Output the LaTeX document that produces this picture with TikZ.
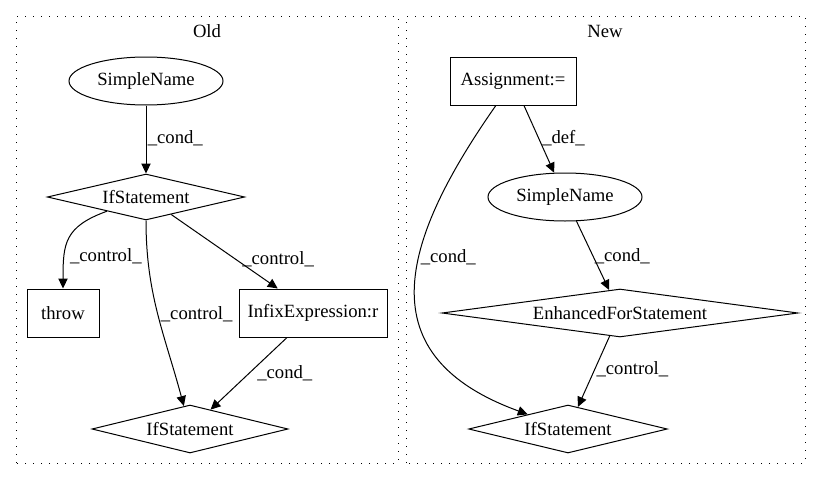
\documentclass[tikz,border=0pt]{standalone}
\usepackage{fontspec}
\setmainfont{Liberation Serif}
\usetikzlibrary{shapes.geometric, arrows.meta}
\begin{document}
\begin{tikzpicture}[x=0.75pt, y=0.75pt, line width=0.75pt,
    every node/.style={font=\fontsize{14}{16}\selectfont},
    box/.style={draw, rectangle, inner sep=0pt, minimum height=36pt},
    oval/.style={draw, ellipse, inner sep=0pt, minimum width=115.5pt, minimum height=36pt},
    cond/.style={draw, diamond, inner sep=0pt, minimum height=36pt},
    edge/.style={-{Triangle[length=7.5pt, width=7pt]}},
    lbl/.style={anchor=west, inner sep=1pt},
    cluster/.style={draw, dash pattern=on 1pt off 5pt}]
  \useasboundingbox (0, 0) rectangle (821, 480);

  % Clusters
  \draw [cluster] (16, 17) rectangle (398, 464);
  \draw [cluster] (406, 17) rectangle (805, 464);
  \node (oldtitle) at (207, 449) {Old};
  \node (newtitle) at (605, 449) {New};

  % Old
  \node [oval] (oldname) at (146, 399) {SimpleName};
  \node [cond, aspect=4.29, minimum width=148pt, minimum height=34.5pt] (oldif) at (146, 283) {IfStatement};
  \node [box, minimum width=54pt] (throw) at (63, 167) {throw};
  \node [box, minimum width=111pt] (infix) at (313, 167) {InfixExpression:r};
  \node [cond, aspect=4.08, minimum width=147pt] (oldiftwo) at (190, 51) {IfStatement};

  \draw [edge] (oldname) -- node [lbl, pos=0.48] {\_cond\_} (oldif);
  \draw [edge] (oldif) to [out=200, in=90, looseness=1.3]
    node [lbl, pos=0.72, xshift=3pt] {\_control\_} (throw);
  \draw [edge] (oldif) to [out=-90, in=105]
    node [lbl, pos=0.5, xshift=1pt] {\_control\_} (oldiftwo);
  \draw [edge] (oldif) -- node [lbl, pos=0.6, xshift=4pt] {\_control\_} (infix);
  \draw [edge] (infix) -- node [lbl, pos=0.5, xshift=5pt] {\_cond\_} (oldiftwo);

  % New
  \node [box, minimum width=94.5pt] (assign) at (513, 399) {Assignment:=};
  \node [oval] (newname) at (565, 283) {SimpleName};
  \node [cond, aspect=7.42, minimum width=267pt] (forstmt) at (620, 167) {EnhancedForStatement};
  \node [cond, aspect=4.14, minimum width=149pt] (newif) at (568, 51) {IfStatement};

  \draw [edge] (assign) -- node [lbl, pos=0.48, xshift=1.5pt] {\_def\_} (newname);
  \draw [edge] (newname) -- node [lbl, pos=0.507] {\_cond\_} (forstmt);
  \draw [edge] (forstmt) -- node [lbl, pos=0.47] {\_control\_} (newif);
  \draw [edge] (assign) to [out=-125, in=160, looseness=1.4]
    node [lbl, pos=0.4] {\_cond\_} (newif);
\end{tikzpicture}
\end{document}
